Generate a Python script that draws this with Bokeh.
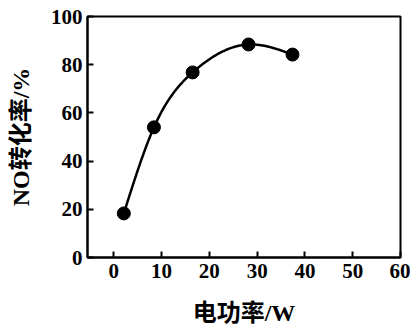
import numpy as np
from bokeh.plotting import figure
from bokeh.models import Range1d, FixedTicker
from bokeh.embed import file_html
from bokeh.resources import INLINE

power = [2.1, 8.4, 16.5, 28.2, 37.4]
conversion = [18.3, 54.0, 76.8, 88.4, 84.2]
x_ticks = [0, 10, 20, 30, 40, 50, 60]
y_ticks = [0, 20, 40, 60, 80, 100]

# natural cubic spline through the data points (smooth connecting curve)
xs = np.array(power); ys = np.array(conversion)
n = len(xs); h = np.diff(xs)
A = np.zeros((n, n)); b = np.zeros(n)
A[0, 0] = 1; A[-1, -1] = 1
for i in range(1, n - 1):
    A[i, i - 1] = h[i - 1]; A[i, i] = 2 * (h[i - 1] + h[i]); A[i, i + 1] = h[i]
    b[i] = 6 * ((ys[i + 1] - ys[i]) / h[i] - (ys[i] - ys[i - 1]) / h[i - 1])
M = np.linalg.solve(A, b)
cx, cy = [], []
for i in range(n - 1):
    t = np.linspace(xs[i], xs[i + 1], 40)
    a = xs[i + 1] - t; c = t - xs[i]
    v = (M[i] * a**3 + M[i + 1] * c**3) / (6 * h[i]) + (ys[i] / h[i] - M[i] * h[i] / 6) * a + (ys[i + 1] / h[i] - M[i + 1] * h[i] / 6) * c
    cx.extend(t.tolist()); cy.extend(v.tolist())

FONT = "'Liberation Serif', 'Noto Sans CJK SC'"

p = figure(frame_width=313, frame_height=241, output_backend="svg", toolbar_location=None,
           x_range=Range1d(-5.5, 60), y_range=Range1d(0, 100),
           min_border_left=87, min_border_right=10, min_border_top=16, min_border_bottom=64)
p.grid.visible = False
p.outline_line_color = "black"
p.outline_line_width = 2
p.background_fill_color = "white"
p.border_fill_color = "white"

p.line(cx, cy, line_color="black", line_width=2.5)
p.scatter(power, conversion, size=13, fill_color="black", line_color="black")

for ax in (p.xaxis[0], p.yaxis[0]):
    ax.axis_line_width = 2
    ax.axis_line_color = "black"
    ax.major_tick_in = 6
    ax.major_tick_out = 0
    ax.major_tick_line_width = 2
    ax.minor_tick_line_color = None
    ax.major_label_text_font = FONT
    ax.major_label_text_font_style = "bold"
    ax.major_label_text_font_size = "21px"
    ax.major_label_text_color = "black"
    ax.axis_label_text_font = FONT
    ax.axis_label_text_font_style = "bold"
    ax.axis_label_text_color = "black"

p.xaxis.axis_label_text_font_size = "24px"
p.yaxis.axis_label_text_font_size = "24px"
p.xaxis.ticker = FixedTicker(ticks=x_ticks)
p.yaxis.ticker = FixedTicker(ticks=y_ticks)
p.xaxis.axis_label = "电功率/W"
p.yaxis.axis_label = "NO转化率/%"
p.xaxis.major_label_standoff = 6
p.yaxis.major_label_standoff = 5
p.xaxis.axis_label_standoff = 19
p.yaxis.axis_label_standoff = 14

open("out.html", "w").write(file_html(p, INLINE))
